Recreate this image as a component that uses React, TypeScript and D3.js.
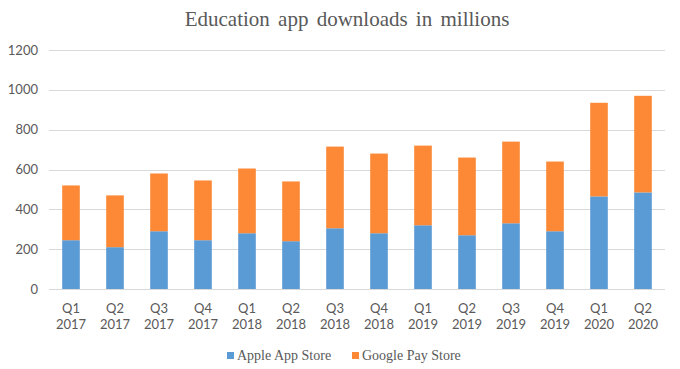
import * as d3 from "d3";
import React, { useEffect, useRef } from "react";

const quarters = ["Q1", "Q2", "Q3", "Q4", "Q1", "Q2", "Q3", "Q4", "Q1", "Q2", "Q3", "Q4", "Q1", "Q2"];
const years = ["2017", "2017", "2017", "2017", "2018", "2018", "2018", "2018", "2019", "2019", "2019", "2019", "2020", "2020"];
const appleStore = [245, 210, 290, 245, 280, 240, 305, 280, 320, 270, 330, 290, 465, 485];
const googleStore = [275, 260, 290, 300, 325, 300, 410, 400, 400, 390, 410, 350, 470, 485];
const seriesNames = ["Apple App Store", "Google Pay Store"];
const seriesColors = ["#5b9bd5", "#fd8936"];
const yTicks = [0, 200, 400, 600, 800, 1000, 1200];

const W = 680;
const H = 369;
const margin = { top: 50, right: 15, bottom: 80, left: 49 };

const App: React.FC = () => {
    const svgRef = useRef<SVGSVGElement>(null);

    useEffect(() => {
        if (!svgRef.current) return;
        const svg = d3.select(svgRef.current);
        svg.selectAll("*").remove();

        const keys = quarters.map((q, i) => `${q} ${years[i]}`);
        const rows = keys.map((k, i) => ({ key: k, apple: appleStore[i], google: googleStore[i] }));

        const x = d3
            .scaleBand<string>()
            .domain(keys)
            .range([margin.left, W - margin.right])
            .paddingInner(0.6)
            .paddingOuter(0.3);

        const y = d3
            .scaleLinear()
            .domain([0, 1200])
            .range([H - margin.bottom, margin.top]);

        // gridlines
        svg.append("g")
            .selectAll("line")
            .data(yTicks)
            .join("line")
            .attr("x1", margin.left)
            .attr("x2", W - margin.right)
            .attr("y1", (d) => Math.round(y(d)) + 0.5)
            .attr("y2", (d) => Math.round(y(d)) + 0.5)
            .attr("stroke", "#d9d9d9")
            .attr("stroke-width", 1);

        // y labels
        svg.append("g")
            .selectAll("text")
            .data(yTicks)
            .join("text")
            .attr("x", 38)
            .attr("y", (d) => y(d))
            .attr("dy", "0.35em")
            .attr("text-anchor", "end")
            .attr("font-family", "Lato, 'Open Sans', sans-serif")
            .attr("font-size", 13)
            .attr("fill", "#595959")
            .text((d) => d);

        // stacked bars
        const stack = d3.stack<{ key: string; apple: number; google: number }>().keys(["apple", "google"]);
        const layers = stack(rows);

        svg.append("g")
            .selectAll("g")
            .data(layers)
            .join("g")
            .attr("fill", (_, i) => seriesColors[i])
            .selectAll("rect")
            .data((d) => d)
            .join("rect")
            .attr("x", (d) => x(d.data.key) as number)
            .attr("width", x.bandwidth())
            .attr("y", (d) => y(d[1]))
            .attr("height", (d) => y(d[0]) - y(d[1]));

        // x labels
        const xl = svg.append("g")
            .selectAll("text")
            .data(keys)
            .join("text")
            .attr("text-anchor", "middle")
            .attr("font-family", "Lato, 'Open Sans', sans-serif")
            .attr("font-size", 13)
            .attr("fill", "#595959");
        xl.append("tspan")
            .attr("x", (d) => (x(d) as number) + x.bandwidth() / 2)
            .attr("y", 313)
            .text((_, i) => quarters[i]);
        xl.append("tspan")
            .attr("x", (d) => (x(d) as number) + x.bandwidth() / 2)
            .attr("y", 329)
            .text((_, i) => years[i]);

        // title
        svg.append("text")
            .attr("x", 347)
            .attr("y", 26)
            .attr("text-anchor", "middle")
            .attr("font-family", "'Liberation Serif', 'Times New Roman', serif")
            .attr("font-size", 21)
            .attr("fill", "#595959")
            .attr("word-spacing", 3)
            .text("Education app downloads in millions");

        // legend
        const legendX = [227, 352];
        const legend = svg.append("g")
            .selectAll("g")
            .data(seriesNames)
            .join("g")
            .attr("transform", (_, i) => `translate(${legendX[i]},352)`);
        legend.append("rect")
            .attr("width", 7)
            .attr("height", 7)
            .attr("fill", (_, i) => seriesColors[i]);
        legend.append("text")
            .attr("x", 10)
            .attr("y", 8)
            .attr("font-family", "'Liberation Serif', 'Times New Roman', serif")
            .attr("font-size", 14)
            .attr("fill", "#595959")
            .text((d) => d);
    }, []);

    return (
        <svg
            ref={svgRef}
            width={W}
            height={H}
            style={{ position: "absolute", left: 0, top: 0, background: "#fff" }}
        />
    );
};

export default App;
